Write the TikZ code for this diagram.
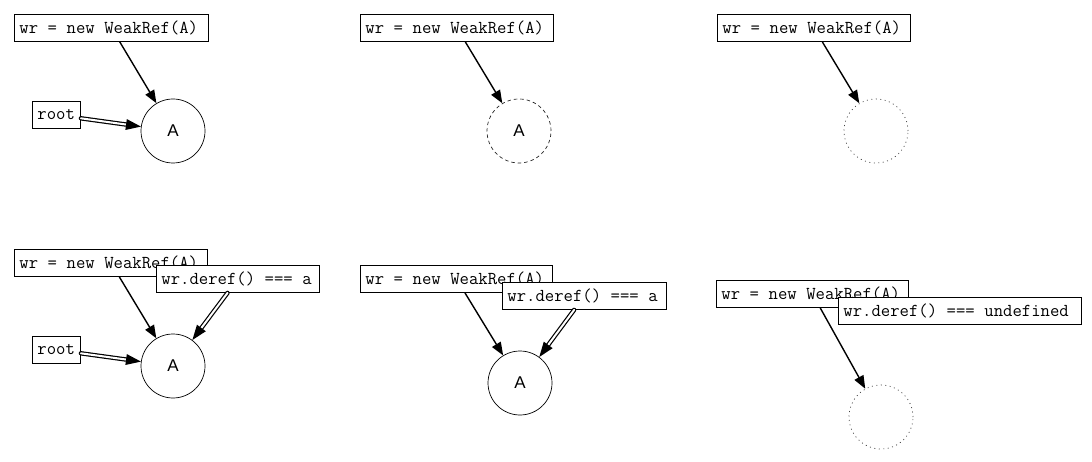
\documentclass[tikz,border=0pt]{standalone}
\usepackage{fontspec}
\setmainfont{Liberation Sans}
\usetikzlibrary{arrows.meta,decorations.markings}
\newcommand\monotxt[1]{\spaceskip=0.525em\xspaceskip=0.525em\relax #1}
\tikzset{
  codebox/.style={draw, line width=0.9pt, fill=white, inner xsep=5pt, inner ysep=0pt,
    minimum height=27pt, font=\ttfamily\fontsize{18.2}{18}\selectfont, anchor=north west, align=left},
  obj/.style={circle, draw, line width=0.7pt, minimum size=64pt, inner sep=0pt,
    font=\fontsize{17}{17}\selectfont},
  gone/.style={obj, dashed, dash pattern=on 3.5pt off 3pt, draw=black!85},
  freed/.style={obj, dotted, dash pattern=on 1pt off 3.5pt, draw=black!75},
  ref/.style={line width=1.4pt, -{Triangle[length=13pt,width=10pt]}},
  strong/.style={line width=1.2pt, double, double distance=2pt, line cap=round,
    shorten >=12pt,
    postaction={decorate, decoration={markings, mark=at position 1 with
      {\fill[black] (0pt,0pt) -- (-15pt,5.5pt) -- (-15pt,-5.5pt) -- cycle;}}}}
}
\begin{document}
\begin{tikzpicture}[x=1pt,y=-1pt]
\useasboundingbox (0,0) rectangle (1092,462);
% ---- top row ----
\node[codebox, text width=184pt] (wr1) at (14,14) {\monotxt{wr = new WeakRef(A)}};
\node[codebox, text width=38pt] (root1) at (32,101) {\monotxt{root}};
\node[obj] (A1) at (173,131) {A};
\draw[ref] (wr1) -- (A1);
\draw[strong] (root1) -- (A1);

\node[codebox, text width=183pt] (wr2) at (360,14) {\monotxt{wr = new WeakRef(A)}};
\node[gone] (A2) at (519,131) {A};
\draw[ref] (wr2) -- (A2);

\node[codebox, text width=183pt] (wr3) at (717,14) {\monotxt{wr = new WeakRef(A)}};
\node[freed] (A3) at (876,131) {};
\draw[ref] (wr3) -- (A3);

% ---- bottom row ----
\node[codebox, text width=183pt] (wr4) at (14,249) {\monotxt{wr = new WeakRef(A)}};
\node[codebox, text width=38pt] (root4) at (32,336) {\monotxt{root}};
\node[obj] (A4) at (173,366) {A};
\draw[ref] (wr4) -- (A4);
\draw[strong] (root4) -- (A4);
\node[codebox, text width=153pt] (d4) at (156,265) {\monotxt{wr.deref() === a}};
\draw[strong] (d4) -- (A4);

\node[codebox, text width=182pt] (wr5) at (360,265) {\monotxt{wr = new WeakRef(A)}};
\node[obj] (A5) at (520,383) {A};
\draw[ref] (wr5) -- (A5);
\node[codebox, text width=154pt] (d5) at (502,282) {\monotxt{wr.deref() === a}};
\draw[strong] (d5) -- (A5);

\node[codebox, text width=182pt] (wr6) at (716,280) {\monotxt{wr = new WeakRef(A)}};
\node[freed] (A6) at (881,417) {};
\draw[ref] (wr6) -- (A6);
\node[codebox, text width=233pt] (d6) at (838,297) {\monotxt{wr.deref() === undefined}};
\end{tikzpicture}
\end{document}
